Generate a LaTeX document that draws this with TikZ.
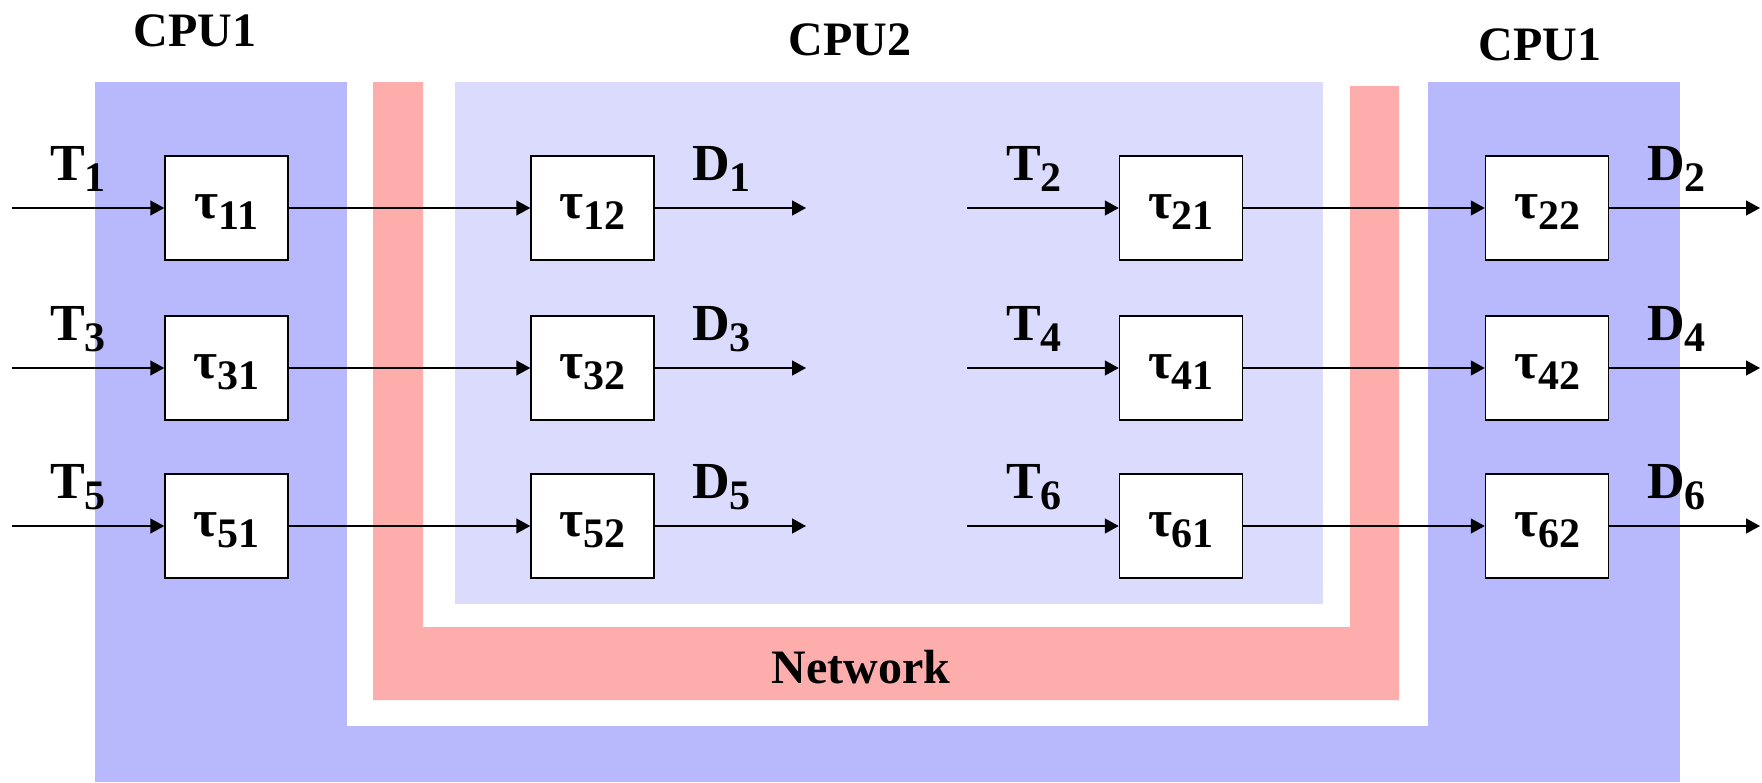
\documentclass[tikz,border=0pt]{standalone}
\usepackage{fontspec}
\setmainfont{Liberation Serif}
\usetikzlibrary{arrows.meta}

\definecolor{cpuone}{RGB}{184,184,252}
\definecolor{cputwo}{RGB}{219,219,254}
\definecolor{netpink}{RGB}{254,173,173}

% symbol with a lowered, smaller index
\newcommand{\lbl}[2]{#1\raisebox{-11pt}{\fontsize{42}{42}\selectfont #2}}

\tikzset{
  task/.style={draw, line width=1.5pt, fill=white,
    minimum width=123pt, minimum height=104pt, inner sep=0pt,
    text height=30pt, text depth=10pt,
    font=\fontsize{52}{60}\selectfont\bfseries},
  flow/.style={line width=1.5pt, -{Triangle[length=14pt,width=15pt]}},
  sig/.style={anchor=base west, inner sep=0pt,
    font=\fontsize{52}{60}\selectfont\bfseries},
  title/.style={anchor=base, inner sep=0pt,
    font=\fontsize{48}{56}\selectfont\bfseries}
}

\begin{document}
\begin{tikzpicture}[x=1pt, y=-1pt]
\useasboundingbox (0,0) rectangle (1762,782);

% processor and network regions
\fill[cpuone] (95,82) rectangle (1680,782);
\fill[white] (347,82) rectangle (1428,726);
\fill[netpink] (373,82) -- (423,82) -- (423,627) -- (1350,627) -- (1350,86)
  -- (1399,86) -- (1399,700) -- (373,700) -- cycle;
\fill[cputwo] (455,82) rectangle (1323,604);

% region titles
\node[title] (cpuA) at (195,46) {CPU1};
\node[title] (cpuB) at (850,55) {CPU2};
\node[title] (cpuC) at (1540,60) {CPU1};
\node[title] (net) at (861,683) {Network};

% task chains, one row per pair of transactions
\foreach \y/\p/\q in {208/1/2, 368/3/4, 526/5/6} {
  \coordinate (inT\p) at (12,\y);
  \coordinate (outD\p) at (806,\y);
  \coordinate (inT\q) at (967,\y);
  \coordinate (outD\q) at (1760,\y);

  \node[task] (t\p1) at (226.5,\y) {\lbl{τ}{\p1}};
  \node[task] (t\p2) at (592.5,\y) {\lbl{τ}{\p2}};
  \node[task] (t\q1) at (1181,\y) {\lbl{τ}{\q1}};
  \node[task] (t\q2) at (1547,\y) {\lbl{τ}{\q2}};

  \draw[flow] (inT\p) -- (t\p1.west);
  \draw[flow] (t\p1.east) -- (t\p2.west);
  \draw[flow] (t\p2.east) -- (outD\p);
  \draw[flow] (inT\q) -- (t\q1.west);
  \draw[flow] (t\q1.east) -- (t\q2.west);
  \draw[flow] (t\q2.east) -- (outD\q);

  \node[sig] (T\p) at (50,\y-28) {\lbl{T}{\p}};
  \node[sig] (D\p) at (692,\y-28) {\lbl{D}{\p}};
  \node[sig] (T\q) at (1006,\y-28) {\lbl{T}{\q}};
  \node[sig] (D\q) at (1647,\y-28) {\lbl{D}{\q}};
}
\end{tikzpicture}
\end{document}
